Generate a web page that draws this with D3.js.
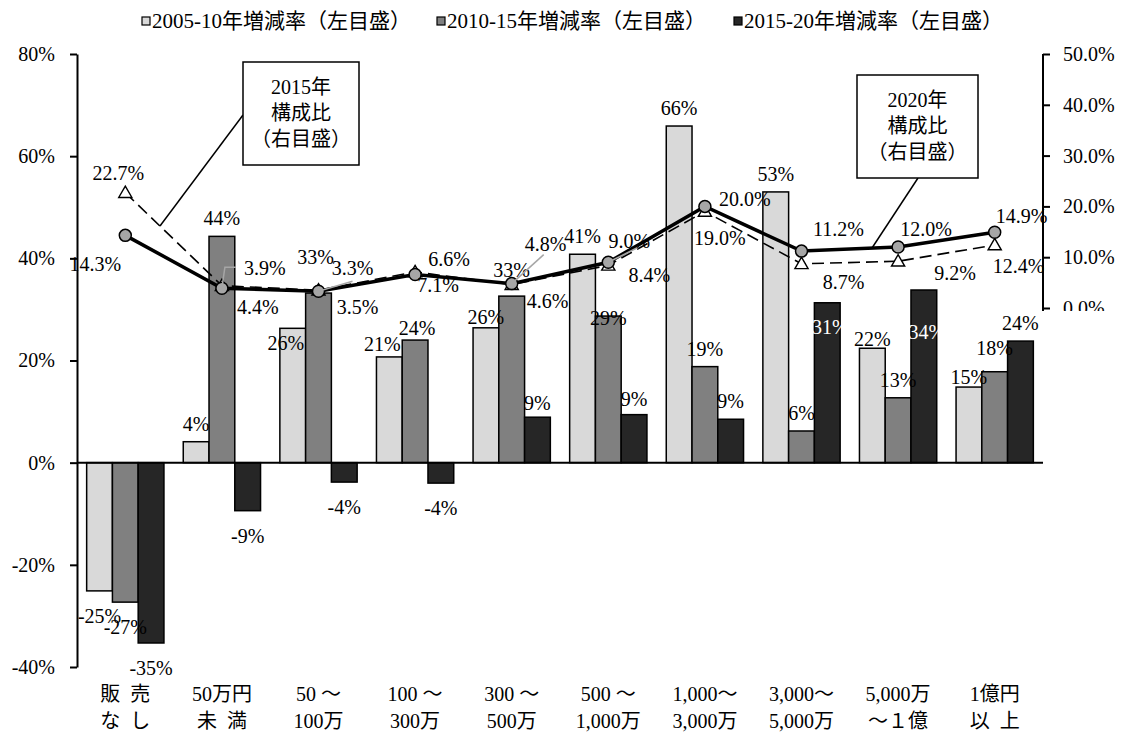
<!DOCTYPE html>
<html>
<head>
<meta charset="utf-8">
<script src="https://cdn.jsdelivr.net/npm/d3@7"></script>
<style>
    body { margin: 0; background: #fff; }
    svg text { font-family: "Liberation Serif", "Noto Sans CJK JP", serif; font-size: 20px; fill: #000; }
</style>
</head>
<body>
<svg width="1131" height="738"></svg>
<script>
// Data
var categoriesTop = ["販\u2002売", "50万円", "50 ～", "100 ～", "300 ～", "500 ～", "1,000～", "3,000～", "5,000万", "1億円"];
var categoriesBottom = ["な\u2002し", "未\u2002満", "100万", "300万", "500万", "1,000万", "3,000万", "5,000万", "～１億", "以\u2002上"];

var seriesNames = ["2005-10年増減率（左目盛）", "2010-15年増減率（左目盛）", "2015-20年増減率（左目盛）"];
var rate0510 = [-25.1, 4.1, 26.3, 20.7, 26.4, 40.8, 65.9, 53.0, 22.4, 14.8];
var rate1015 = [-27.3, 44.3, 33.2, 24.0, 32.6, 28.7, 18.8, 6.2, 12.7, 17.8];
var rate1520 = [-35.3, -9.4, -3.8, -4.0, 8.9, 9.4, 8.5, 31.3, 33.8, 23.8];

var share2015 = [22.7, 4.4, 3.5, 7.1, 4.6, 8.4, 19.0, 8.7, 9.2, 12.4];
var share2020 = [14.3, 3.9, 3.3, 6.6, 4.8, 9.0, 20.0, 11.2, 12.0, 14.9];

var leftTicks = [-40, -20, 0, 20, 40, 60, 80];
var rightTicks = [0, 10, 20, 30, 40, 50];

var barColors = ["#d9d9d9", "#808080", "#262626"];

// Label nudges (layout only)
var barLabelNudge = {
    "0-2": [-7, 33], "0-3": [-7, 5], "0-4": [0, 7], "0-8": [0, 9], "0-9": [0, 8],
    "1-2": [-3, -18], "1-3": [2, 6], "1-4": [0, -8], "1-5": [0, 20], "1-9": [0, -6],
    "2-4": [0, 4], "2-5": [0, 2], "2-7": [3, 42], "2-8": [3, 60]
};
var label2015Offset = [[-7, -20], [36, 21], [39, 17], [23, 13], [36, 16], [41, 10], [15, 27], [42, 18], [57, 12], [24, 21]];
var label2020Offset = [[-30, 29], [43, -20], [34, -23], [34, -15], [34, -40], [21, -21], [40, -7], [37, -22], [28, -18], [27, -16]];
var leader2020 = {
    1: [[0, 0], [3, -21], [14, -21]],
    2: [[0, 0], [34, -10]],
    4: [[0, 0], [32, -29]],
    5: [[0, 0], [30, -15]]
};

var svg = d3.select("svg");

var xScale = d3.scaleBand().domain(d3.range(categoriesTop.length))
    .range([77, 1043]).paddingInner(0.2).paddingOuter(0.1);
var xSub = d3.scaleBand().domain([0, 1, 2]).range([0, xScale.bandwidth()]);
var yLeft = d3.scaleLinear().domain([-40, 80]).range([667, 54]);
var yRight = d3.scaleLinear().domain([0, 50]).range([308, 54]);

function cx(i) { return xScale(i) + xScale.bandwidth() / 2; }

// Bars
var rates = [rate0510, rate1015, rate1520];
rates.forEach(function (series, s) {
    svg.append("g").selectAll("rect")
        .data(series)
        .enter()
        .append("rect")
        .attr("x", (d, i) => xScale(i) + xSub(s))
        .attr("width", xSub.bandwidth())
        .attr("y", d => yLeft(Math.max(0, d)))
        .attr("height", d => Math.abs(yLeft(d) - yLeft(0)))
        .attr("fill", barColors[s])
        .attr("stroke", "#000")
        .attr("stroke-width", 1.5);
});

// Left axis
var leftAxis = d3.axisLeft(yLeft).tickValues(leftTicks)
    .tickFormat(d => d + "%").tickSize(7).tickSizeOuter(0).tickPadding(15);
var gl = svg.append("g").attr("transform", "translate(77,0)").call(leftAxis);
gl.select(".domain").attr("stroke-width", 2);
gl.selectAll(".tick line").attr("stroke-width", 2);
gl.selectAll("text").attr("font-size", 20).attr("font-family", null).attr("fill", "#000");

// Right axis (bottom clipped like the original)
svg.append("clipPath").attr("id", "rclip")
    .append("rect").attr("x", 1030).attr("y", 0).attr("width", 110).attr("height", 311);
var rightAxis = d3.axisRight(yRight).tickValues(rightTicks)
    .tickFormat(d => d.toFixed(1) + "%").tickSize(7).tickSizeOuter(0).tickPadding(13);
var gr = svg.append("g").attr("clip-path", "url(#rclip)")
    .append("g").attr("transform", "translate(1043,0)").call(rightAxis);
gr.select(".domain").remove();
gr.append("line").attr("x1", 0).attr("x2", 0)
    .attr("y1", yRight(50)).attr("y2", yRight(0) + 4)
    .attr("stroke", "#000").attr("stroke-width", 2);
gr.selectAll(".tick line").attr("stroke-width", 2);
gr.selectAll("text").attr("font-size", 20).attr("font-family", null).attr("fill", "#000");

// Zero line
svg.append("line")
    .attr("x1", 77).attr("x2", 1043)
    .attr("y1", yLeft(0)).attr("y2", yLeft(0))
    .attr("stroke", "#000").attr("stroke-width", 2);

// Category labels
svg.append("g").selectAll("text")
    .data(categoriesTop).enter().append("text")
    .attr("x", (d, i) => cx(i)).attr("y", 694)
    .attr("text-anchor", "middle").attr("dominant-baseline", "central")
    .text(d => d);
svg.append("g").selectAll("text")
    .data(categoriesBottom).enter().append("text")
    .attr("x", (d, i) => cx(i)).attr("y", 721)
    .attr("text-anchor", "middle").attr("dominant-baseline", "central")
    .text(d => d);

// Share lines
var line = d3.line().x((d, i) => cx(i)).y(d => yRight(d));

svg.append("path")
    .attr("d", line(share2015))
    .attr("fill", "none")
    .attr("stroke", "#000")
    .attr("stroke-width", 1.6)
    .attr("stroke-dasharray", "12,6");

svg.append("g").selectAll("path")
    .data(share2015).enter().append("path")
    .attr("d", d3.symbol().type(d3.symbolTriangle).size(75))
    .attr("transform", (d, i) => "translate(" + cx(i) + "," + (yRight(d) + 1) + ")")
    .attr("fill", "#fff")
    .attr("stroke", "#000")
    .attr("stroke-width", 1.4);

svg.append("path")
    .attr("d", line(share2020))
    .attr("fill", "none")
    .attr("stroke", "#000")
    .attr("stroke-width", 3.5);

svg.append("g").selectAll("circle")
    .data(share2020).enter().append("circle")
    .attr("cx", (d, i) => cx(i))
    .attr("cy", d => yRight(d))
    .attr("r", 6)
    .attr("fill", "#a6a6a6")
    .attr("stroke", "#000")
    .attr("stroke-width", 1.5);

// Bar labels
rates.forEach(function (series, s) {
    svg.append("g").selectAll("text")
        .data(series).enter().append("text")
        .attr("x", function (d, i) {
            var n = barLabelNudge[s + "-" + i] || [0, 0];
            return xScale(i) + xSub(s) + xSub.bandwidth() / 2 + n[0];
        })
        .attr("y", function (d, i) {
            var n = barLabelNudge[s + "-" + i] || [0, 0];
            return (d >= 0 ? yLeft(d) - 18 : yLeft(d) + 25) + n[1];
        })
        .attr("text-anchor", "middle")
        .attr("dominant-baseline", "central")
        .style("fill", (d, i) => (s === 2 && (i === 7 || i === 8)) ? "#fff" : "#000")
        .text(d => Math.round(d) + "%");
});

// Leader lines for share labels
Object.keys(leader2020).forEach(function (k) {
    var i = +k;
    var px = cx(i), py = yRight(share2020[i]);
    svg.append("polyline")
        .attr("points", leader2020[k].map(p => (px + p[0]) + "," + (py + p[1])).join(" "))
        .attr("fill", "none")
        .attr("stroke", "#a6a6a6")
        .attr("stroke-width", 1.5);
});

// Share labels
svg.append("g").selectAll("text")
    .data(share2015).enter().append("text")
    .attr("x", (d, i) => cx(i) + label2015Offset[i][0])
    .attr("y", (d, i) => yRight(d) + label2015Offset[i][1])
    .attr("text-anchor", "middle").attr("dominant-baseline", "central")
    .text(d => d.toFixed(1) + "%");
svg.append("g").selectAll("text")
    .data(share2020).enter().append("text")
    .attr("x", (d, i) => cx(i) + label2020Offset[i][0])
    .attr("y", (d, i) => yRight(d) + label2020Offset[i][1])
    .attr("text-anchor", "middle").attr("dominant-baseline", "central")
    .text(d => d.toFixed(1) + "%");

// Callouts
function callout(x, y, w, h, lines, lx1, ly1, lx2, ly2) {
    svg.append("line")
        .attr("x1", lx1).attr("y1", ly1).attr("x2", lx2).attr("y2", ly2)
        .attr("stroke", "#000").attr("stroke-width", 1.5);
    svg.append("rect")
        .attr("x", x).attr("y", y).attr("width", w).attr("height", h)
        .attr("fill", "#fff").attr("stroke", "#000").attr("stroke-width", 1.5);
    lines.forEach(function (t, j) {
        svg.append("text")
            .attr("x", x + w / 2).attr("y", y + 25 + j * 26)
            .attr("text-anchor", "middle").attr("dominant-baseline", "central")
            .text(t);
    });
}
callout(243, 62, 116, 103, ["2015年", "構成比", "（右目盛）"], 243, 115, 160, 226);
callout(857, 75, 121, 103, ["2020年", "構成比", "（右目盛）"], 918, 178, 872, 248);

// Legend
var legendX = [142, 437, 734];
seriesNames.forEach(function (name, s) {
    svg.append("rect")
        .attr("x", legendX[s]).attr("y", 17)
        .attr("width", 8).attr("height", 8)
        .attr("fill", barColors[s])
        .attr("stroke", "#000").attr("stroke-width", 1.2);
    svg.append("text")
        .attr("x", legendX[s] + 10).attr("y", 21)
        .attr("dominant-baseline", "central")
        .style("font-size", "21px")
        .text(name);
});
</script>
</body>
</html>
